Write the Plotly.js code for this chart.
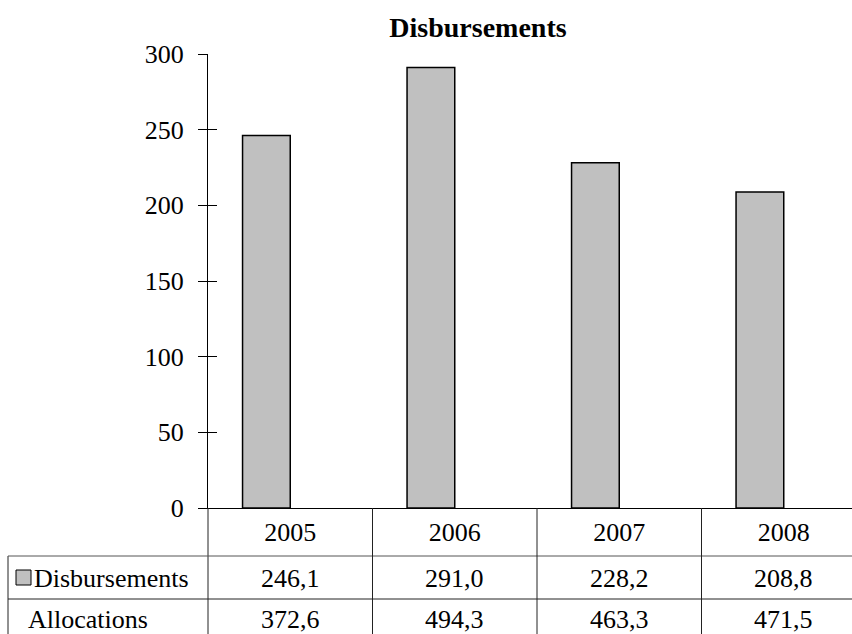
<!DOCTYPE html>
<html>
<head>
<meta charset="utf-8">
<script src="https://cdn.plot.ly/plotly-3.0.1.min.js"></script>
<style>html,body{margin:0;padding:0;background:#fff;}</style>
</head>
<body>
<div id="chart" style="width:852px;height:634px;"></div>
<script>
// ---- data ----
const years = ['2005', '2006', '2007', '2008'];
const disbursements = [246.1, 291.0, 228.2, 208.8];
const allocations = [372.6, 494.3, 463.3, 471.5];
const seriesNames = ['Disbursements', 'Allocations'];
const yTicks = [0, 50, 100, 150, 200, 250, 300];

// ---- layout constants ----
const W = 852, H = 634;
const M = {l: 208, r: 0, t: 54, b: 126};
const PH = H - M.t - M.b;      // plot height px
const PW = W - M.l - M.r;      // plot width px
const bottom = H - M.b;        // px of plot bottom
const py = px => (bottom - px) / PH;       // pixel y -> paper y
const pxX = px => (px - M.l) / PW;         // pixel x -> paper x
const FONT = "'Liberation Serif', 'Times New Roman', serif";
const FS = 26;
const fmt = v => v.toFixed(1).replace('.', ',');

const rowDisb = py(578), rowAlloc = py(619);
const line556 = py(556), line599 = py(599), tableBottom = py(640);
const leftEdge = pxX(8);

const traces = [
  {
    type: 'bar', x: years, y: disbursements, name: seriesNames[0],
    marker: {color: '#c0c0c0', line: {color: '#000', width: 1.5}},
    offset: -0.29, width: 0.29, hoverinfo: 'x+y'
  },
  {type: 'scatter', x: [], y: [], yaxis: 'y2', showlegend: false}
];

const txtFont = {family: FONT, size: FS, color: '#000'};
const annotations = [];
years.forEach((yr, i) => {
  annotations.push({xref: 'x', yref: 'paper', x: i, y: rowDisb, text: fmt(disbursements[i]),
    showarrow: false, xanchor: 'center', yanchor: 'middle', font: txtFont});
  annotations.push({xref: 'x', yref: 'paper', x: i, y: rowAlloc, text: fmt(allocations[i]),
    showarrow: false, xanchor: 'center', yanchor: 'middle', font: txtFont});
});
annotations.push({xref: 'paper', yref: 'paper', x: pxX(32), y: rowDisb, text: seriesNames[0],
  showarrow: false, xanchor: 'left', yanchor: 'middle', font: txtFont});
annotations.push({xref: 'paper', yref: 'paper', x: pxX(26), y: rowAlloc, text: seriesNames[1],
  showarrow: false, xanchor: 'left', yanchor: 'middle', font: txtFont});

const lineStyle = {color: '#222', width: 1};
const shapes = [
  {type: 'line', xref: 'paper', yref: 'paper', x0: 0, x1: 0, y0: 0, y1: tableBottom, line: lineStyle},
  {type: 'line', xref: 'paper', yref: 'paper', x0: leftEdge, x1: leftEdge, y0: line556, y1: tableBottom, line: lineStyle},
  {type: 'line', xref: 'paper', yref: 'paper', x0: leftEdge, x1: 1, y0: line556, y1: line556, line: {color: '#555', width: 1}},
  {type: 'line', xref: 'paper', yref: 'paper', x0: leftEdge, x1: 1, y0: line599, y1: line599, line: lineStyle},
  {type: 'rect', xref: 'paper', yref: 'paper', x0: pxX(16), x1: pxX(31), y0: py(585), y1: py(570),
    fillcolor: '#c0c0c0', line: {color: '#000', width: 1}}
];
for (let i = 0; i < years.length - 1; i++) {
  shapes.push({type: 'line', xref: 'x', yref: 'paper', x0: i + 0.5, x1: i + 0.5, y0: 0, y1: tableBottom, line: lineStyle});
}

const layout = {
  width: W, height: H,
  margin: M,
  paper_bgcolor: '#fff', plot_bgcolor: '#fff',
  showlegend: false,
  title: {
    text: 'Disbursements', xref: 'paper', x: pxX(478), xanchor: 'center',
    yref: 'container', y: 1 - 27 / H, yanchor: 'middle',
    font: {family: FONT, size: 28, color: '#000', weight: 'bold'}
  },
  xaxis: {
    type: 'category', range: [-0.5, -0.5 + PW / 164.5],
    showline: true, linecolor: '#000', linewidth: 1,
    ticks: '', showgrid: false, zeroline: false,
    tickfont: txtFont,
    ticklabelstandoff: 1
  },
  yaxis: {
    range: [0, 300], tickvals: yTicks, ticktext: yTicks.map(String),
    showline: true, linecolor: '#000', linewidth: 1,
    ticks: 'outside', ticklen: 9, tickcolor: '#000', tickwidth: 1,
    showgrid: false, zeroline: false,
    tickfont: txtFont,
    ticklabelstandoff: 9
  },
  yaxis2: {
    overlaying: 'y', anchor: 'x', side: 'left', range: [0, 300], tickvals: yTicks,
    ticks: 'inside', ticklen: 9, tickcolor: '#000', tickwidth: 1,
    showticklabels: false, showline: false, showgrid: false, zeroline: false
  },
  annotations: annotations,
  shapes: shapes
};

Plotly.newPlot('chart', traces, layout, {displayModeBar: false, staticPlot: true});
</script>
</body>
</html>
